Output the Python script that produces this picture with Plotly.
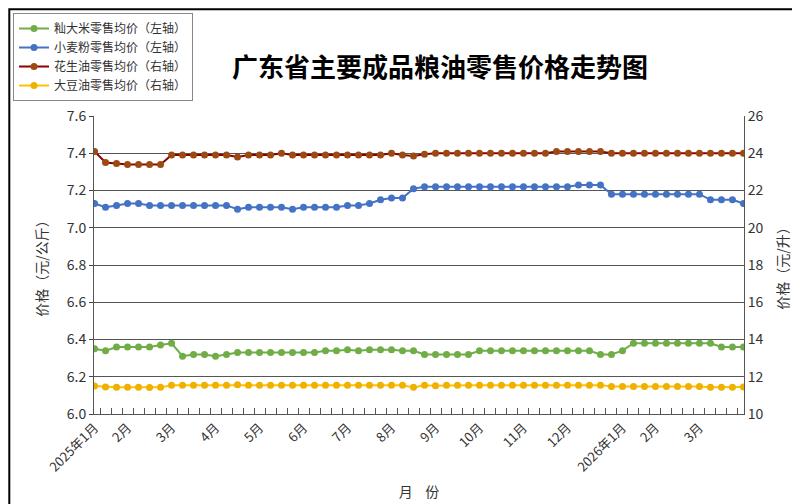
import plotly.graph_objects as go

x = list(range(60))
month_idx = [0, 3, 7, 11, 15, 19, 23, 27, 31, 35, 39, 43, 48, 51, 55]
month_labels = ["2025年1月", "2月", "3月", "4月", "5月", "6月", "7月", "8月", "9月",
                "10月", "11月", "12月", "2026年1月", "2月", "3月"]

rice = [6.35, 6.34, 6.36, 6.36, 6.36, 6.36, 6.37, 6.38, 6.31, 6.32,
        6.32, 6.31, 6.32, 6.33, 6.33, 6.33, 6.33, 6.33, 6.33, 6.33,
        6.33, 6.34, 6.34, 6.345, 6.34, 6.345, 6.345, 6.345, 6.34, 6.34,
        6.32, 6.32, 6.32, 6.32, 6.32, 6.34, 6.34, 6.34, 6.34, 6.34,
        6.34, 6.34, 6.34, 6.34, 6.34, 6.34, 6.32, 6.32, 6.34, 6.38,
        6.38, 6.38, 6.38, 6.38, 6.38, 6.38, 6.38, 6.36, 6.36, 6.36]
wheat = [7.13, 7.11, 7.12, 7.13, 7.13, 7.12, 7.12, 7.12, 7.12, 7.12,
         7.12, 7.12, 7.12, 7.10, 7.11, 7.11, 7.11, 7.11, 7.10, 7.11,
         7.11, 7.11, 7.11, 7.12, 7.12, 7.13, 7.15, 7.16, 7.16, 7.21,
         7.22, 7.22, 7.22, 7.22, 7.22, 7.22, 7.22, 7.22, 7.22, 7.22,
         7.22, 7.22, 7.22, 7.22, 7.23, 7.23, 7.23, 7.18, 7.18, 7.18,
         7.18, 7.18, 7.18, 7.18, 7.18, 7.18, 7.15, 7.15, 7.15, 7.13]
peanut = [24.1, 23.5, 23.45, 23.4, 23.4, 23.4, 23.4, 23.9, 23.9, 23.9,
          23.9, 23.9, 23.9, 23.8, 23.9, 23.9, 23.9, 24.0, 23.9, 23.9,
          23.9, 23.9, 23.9, 23.9, 23.9, 23.9, 23.9, 24.0, 23.9, 23.85,
          23.95, 24.0, 24.0, 24.0, 24.0, 24.0, 24.0, 24.0, 24.0, 24.0,
          24.0, 24.0, 24.1, 24.1, 24.1, 24.1, 24.1, 24.0, 24.0, 24.0,
          24.0, 24.0, 24.0, 24.0, 24.0, 24.0, 24.0, 24.0, 24.0, 24.0]
soy = [11.5, 11.45, 11.43, 11.43, 11.43, 11.42, 11.43, 11.54, 11.54, 11.54,
       11.54, 11.54, 11.54, 11.57, 11.54, 11.54, 11.54, 11.54, 11.54, 11.54,
       11.54, 11.54, 11.54, 11.54, 11.54, 11.54, 11.54, 11.54, 11.54, 11.43,
       11.54, 11.52, 11.54, 11.54, 11.54, 11.54, 11.54, 11.55, 11.55, 11.55,
       11.55, 11.55, 11.55, 11.55, 11.55, 11.55, 11.55, 11.48, 11.48, 11.48,
       11.48, 11.48, 11.48, 11.48, 11.48, 11.48, 11.43, 11.43, 11.43, 11.45]

font = "Noto Sans CJK SC"
fig = go.Figure()
def tr(y, name, lc, mc, axis):
    fig.add_trace(go.Scatter(x=x, y=y, name=name, yaxis=axis, mode="lines+markers",
                             line=dict(color=lc, width=2), marker=dict(color=mc, size=7)))
tr(rice, "籼大米零售均价（左轴）", "#70ad47", "#70ad47", "y")
tr(wheat, "小麦粉零售均价（左轴）", "#4472c4", "#4472c4", "y")
tr(peanut, "花生油零售均价（右轴）", "#8b0000", "#9c4a12", "y2")
tr(soy, "大豆油零售均价（右轴）", "#ffc000", "#f0b000", "y2")

fig.update_layout(
    width=800, height=504, margin=dict(l=86, r=64, t=108, b=98, autoexpand=False),
    paper_bgcolor="white", plot_bgcolor="white",
    font=dict(family=font, size=13, color="#333"),
    title=dict(text="<b>广东省主要成品粮油零售价格走势图</b>", x=0.54, y=0.9, xanchor="center",
               font=dict(size=26, color="black", family=font)),
    legend=dict(x=-0.1246, y=1.3456, xanchor="left", yanchor="top",
                bordercolor="#888", borderwidth=1, bgcolor="white",
                font=dict(size=12), tracegroupgap=0, itemwidth=30),
    showlegend=True,
    xaxis=dict(range=[-0.05, 59.05], tickmode="array", tickvals=month_idx, ticktext=month_labels,
               tickangle=-45, ticks="", showgrid=False, showline=True, linecolor="#555",
               minor=dict(dtick=1, tick0=0.5, ticks="inside", ticklen=6, tickcolor="#555", showgrid=False),
               title=dict(text="月    份", font=dict(size=14), standoff=12), tickfont=dict(size=13)),
    yaxis=dict(range=[6.0, 7.6], dtick=0.2, tickformat=".1f", showgrid=True, gridcolor="#555",
               gridwidth=1, showline=True, linecolor="#555", ticks="outside", ticklen=4,
               title=dict(text="价格（元/公斤）", font=dict(size=14)), tickfont=dict(size=14), zeroline=False),
    yaxis2=dict(range=[10, 26], dtick=2, overlaying="y", side="right", showgrid=False,
                showline=True, linecolor="#555", title=dict(text="价格（元/升）", font=dict(size=14)),
                tickfont=dict(size=14), zeroline=False),
    shapes=[dict(type="rect", xref="paper", yref="paper",
                 x0=-86/650 + 0.002, x1=1 + 64/650 - 0.002,
                 y0=-98/298 + 0.004, y1=1 + 108/298 - 0.004,
                 line=dict(color="black", width=2))],
)
fig.write_html("out.html")
